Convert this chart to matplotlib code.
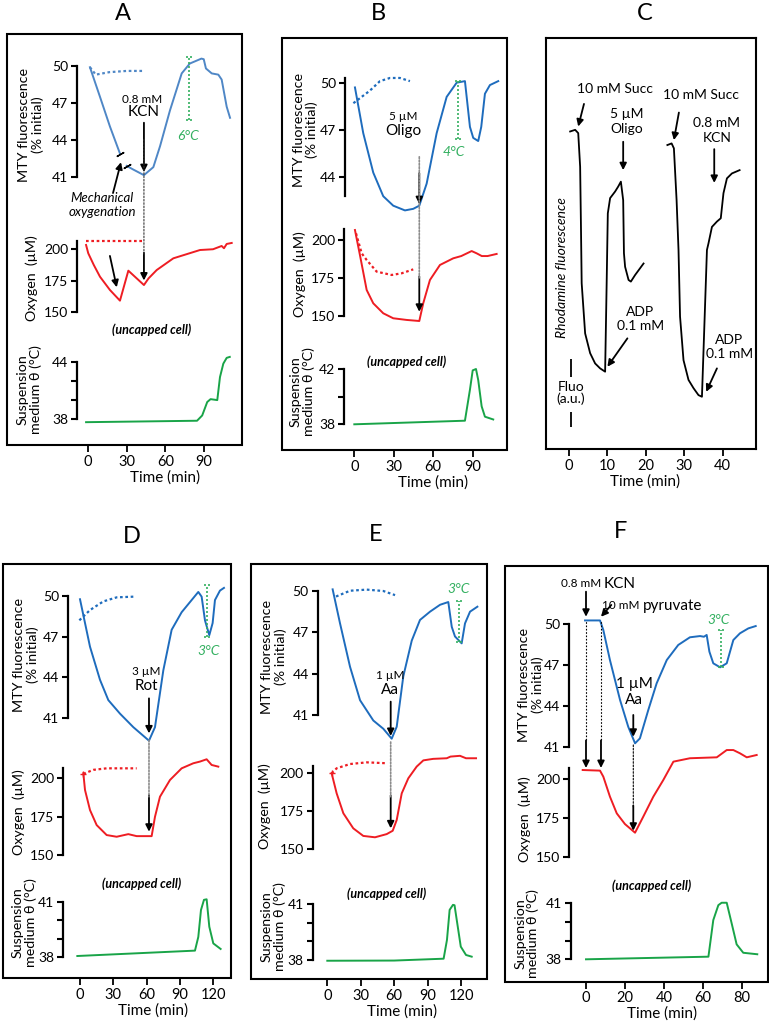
import numpy as np
import matplotlib.pyplot as plt
from matplotlib.patches import Rectangle, ConnectionPatch

plt.rcParams['font.family'] = ['Lato', 'DejaVu Sans']

W, H = 769, 1025          # output size in pixels

BLUE_A = '#4f87c6'
BLUE = '#1e6cbd'
RED = '#ee1d23'
GREEN = '#19a448'
GREEN_DOT = '#33b060'
DOTTED = (0, (1.2, 1.2))

# ---------------- A : 0.8 mM KCN ----------------
a_time_ticks = [0, 30, 60, 90]
a_mty_t = [1.5, 9.3, 17, 24.8]
a_mty_v = [49.9, 47.5, 45.1, 42.9]
a_mty2_t = [30, 35.2, 43.4, 50.7, 55.9, 63.6, 72.7, 79, 88, 89.8, 91.5, 96, 101.1, 103.7, 107.6, 110.2]
a_mty2_v = [41.9, 41.6, 41.15, 41.8, 43.5, 46.4, 49.4, 50.2, 50.6, 50.55, 49.8, 49.4, 49.3, 48.9, 46.7, 45.8]
a_mty_dot_t = [1.5, 6, 16.5, 30, 42.4]
a_mty_dot_v = [49.9, 49.3, 49.5, 49.6, 49.6]
a_o2_t = [-1.5, 0.2, 4.5, 9.3, 17, 24.8, 31.3, 43.4, 47, 53.3, 66.2, 86.9, 97, 103.7, 105.5, 107.6, 111.5]
a_o2_v = [203.2, 196.6, 187.3, 178, 167.5, 159, 182.8, 171.4, 176.7, 183.3, 192.6, 199.2, 199.8, 202.4, 200.6, 204, 204.8]
a_o2_dot_t = [-1.5, 42.4]
a_o2_dot_v = [206.6, 206.6]
a_temp_t = [-1.5, 84.6, 88.6, 92.5, 95.1, 100.3, 102.4, 105, 107.6, 110]
a_temp_v = [37.7, 37.85, 38.4, 39.8, 40.1, 40.0, 42.4, 43.8, 44.4, 44.5]
a_kcn_t = 43.4

# ---------------- B : 5 uM oligomycin ----------------
b_time_ticks = [0, 30, 60, 90]
b_mty_t = [0.5, 6.8, 14.4, 22, 29.6, 38.5, 44.8, 49.4, 55, 62.6, 70.2, 77.8, 84.1, 87.9, 90.4, 94.2, 96.5, 99.3, 103.1, 109.4]
b_mty_v = [49.7, 46.8, 44.3, 42.8, 42.2, 41.9, 42.0, 42.2, 43.6, 46.8, 49.1, 50.0, 50.1, 47.2, 46.5, 46.3, 47.2, 49.3, 49.85, 50.1]
b_mty_dot_t = [-0.7, 4, 11.9, 19.5, 27.1, 34.7, 42.3]
b_mty_dot_v = [48.7, 49.0, 49.5, 50.1, 50.3, 50.3, 50.1]
b_o2_t = [0.5, 4.3, 9.4, 14.4, 22, 29.6, 39.8, 49.4, 52.4, 57.5, 65.1, 75.2, 81.3, 89.2, 93, 96.9, 101.3, 108.2]
b_o2_v = [206.6, 190, 167, 158.2, 151.6, 148.3, 147.2, 146.5, 158.2, 173.6, 183.5, 187.9, 189.4, 192.7, 191.2, 189.4, 189.4, 190.8]
b_o2_dot_t = [1.3, 5.6, 9.4, 17, 28.4, 36, 44.8]
b_o2_dot_v = [204.4, 191.2, 186.8, 179.1, 176.9, 178.0, 180.6]
b_temp_t = [0, 84.1, 87.9, 90, 92.5, 94.2, 96.8, 99.3, 105.6]
b_temp_v = [38.0, 38.26, 40.5, 41.9, 42.0, 41.2, 39.3, 38.55, 38.35]
b_oligo_t = 49.4

# ---------------- C : rhodamine traces ----------------
c_time_ticks = [0, 10, 20, 30, 40]
c1_t = [0.3, 1.6, 2.4, 2.9, 3.1, 3.3, 4.2, 5.5, 6.8, 8.1, 9.4, 9.8, 10.1, 10.7, 12.0, 12.8, 13.5, 14.1, 14.3, 14.6, 15.5, 16.1, 17.2, 19.4]
c1_v = [77.2, 77.6, 76.8, 68.6, 55, 40.3, 28.1, 23.3, 20.8, 19.6, 18.8, 40.3, 57.3, 61.0, 62.6, 63.8, 65.0, 60.5, 47.6, 44.3, 41.1, 40.7, 42.3, 45.1]
c2_t = [25.6, 26.7, 27.3, 28.0, 28.5, 28.9, 29.8, 31.1, 32.4, 33.7, 34.6, 35.9, 36.3, 37.2, 38.5, 39.5, 40.2, 41.1, 42.4, 44.4]
c2_v = [73.9, 74.3, 73.1, 60.5, 48.4, 32.2, 21.6, 16.8, 14.8, 13.1, 12.7, 48.4, 50.0, 54.0, 55.3, 56.1, 62.2, 65.8, 67.0, 67.8]

# ---------------- D : 3 uM rotenone ----------------
d_time_ticks = [0, 30, 60, 90, 120]
d_mty_t = [0, 9, 18, 25.5, 36, 48, 62.1, 67.5, 75, 82.5, 91.5, 100.5, 106.5, 109.5, 112.5, 116.4, 119.4, 121.5, 126, 129.6]
d_mty_v = [49.76, 46.25, 43.8, 42.3, 41.3, 40.3, 39.3, 40.3, 44.5, 47.5, 48.8, 49.7, 50.3, 49.95, 48.2, 47.1, 48.0, 49.7, 50.4, 50.6]
d_mty_dot_t = [-0.6, 9, 21, 33, 48]
d_mty_dot_v = [48.2, 48.96, 49.6, 49.9, 49.95]
d_o2_t = [3, 4.5, 9, 15, 24, 33, 43.5, 51, 64.5, 67.5, 72, 81, 91.5, 102, 108, 114, 118.5, 124.5]
d_o2_v = [203.3, 192.4, 179.3, 169.5, 163, 161.9, 163.6, 162.3, 162.3, 174.9, 188, 198.9, 206.5, 209.8, 210.9, 212.4, 208.7, 207.6]
d_o2_dot_t = [3, 12, 24, 51]
d_o2_dot_v = [202.9, 205.5, 206.5, 206.5]
d_temp_t = [-2.4, 103.5, 106.5, 108.9, 111.6, 114, 116.4, 120, 126.6]
d_temp_v = [38.07, 38.36, 39.1, 40.55, 41.1, 41.13, 39.65, 38.75, 38.45]
d_rot_t = 62.1

# ---------------- E : 1 uM antimycin ----------------
e_time_ticks = [0, 30, 60, 90, 120]
e_mty_t = [4.8, 11.4, 20.4, 29.4, 41.3, 50.3, 57.8, 62.3, 68.2, 75.8, 83.2, 92.2, 101.2, 108.6, 111.7, 114.6, 120.6, 123.6, 128.1, 134.7]
e_mty_v = [50.12, 47.66, 44.5, 42.07, 40.6, 40.0, 39.28, 40.15, 43.8, 46.4, 47.9, 48.5, 49.0, 49.2, 47.4, 46.7, 46.2, 47.65, 48.5, 48.86]
e_mty_dot_t = [7.8, 20.4, 35.4, 50.3, 60.8]
e_mty_dot_v = [49.6, 50.02, 50.1, 50.0, 49.7]
e_o2_t = [3.9, 8.4, 14.4, 23.3, 32.3, 42.8, 53.3, 58.7, 62.3, 66.8, 72.7, 80.2, 86.2, 95, 107.2, 110.6, 119.1, 124.5, 133.5]
e_o2_v = [200, 186.8, 173.7, 163.8, 158.8, 157.9, 160, 162.2, 169.3, 186.8, 196.7, 204.4, 208.5, 209.5, 209.9, 211, 211.5, 209.9, 209.9]
e_o2_dot_t = [3.9, 8.4, 20.4, 35.4, 53.9]
e_o2_dot_v = [200, 203.3, 206.1, 207.2, 206.6]
e_temp_t = [0, 60, 104.4, 107.4, 109.8, 112.8, 114.2, 116.2, 119.8, 124.5, 129.6]
e_temp_v = [37.96, 37.97, 38.07, 39.08, 40.7, 40.97, 40.95, 40.15, 38.72, 38.27, 38.18]
e_aa_t = 56.9

# ---------------- F : KCN + pyruvate + antimycin ----------------
f_time_ticks = [0, 20, 40, 60, 80]
f_mty_t = [-0.5, 7.2, 8.9, 12.3, 17.5, 21.7, 25.2, 27.7, 32, 36.3, 41.5, 47.4, 53.4, 58.6, 60.6, 62, 63.4, 65.4, 68.9, 72.3, 75.7, 79.1, 83.4, 87.2]
f_mty_v = [50.26, 50.26, 49.56, 47.37, 44.45, 42.5, 41.29, 41.65, 43.72, 45.67, 47.37, 48.47, 49.03, 49.12, 49.07, 49.2, 47.98, 47.13, 46.84, 47.13, 48.83, 49.32, 49.68, 49.85]
f_o2_t = [-1.7, 7.2, 8.9, 12.3, 15.8, 20, 25.2, 29.4, 34.6, 39.7, 44.9, 53.4, 67.2, 72.3, 75.7, 79.1, 82.6, 87.7]
f_o2_v = [206.0, 205.6, 201.7, 188.8, 178.0, 171.1, 165.5, 175.8, 188.8, 199.5, 211.4, 213.6, 214.2, 218.9, 218.9, 216.8, 214.2, 215.7]
f_temp_t = [0, 62.9, 65.4, 68, 69.7, 72.3, 74.9, 77.4, 80.8, 88]
f_temp_v = [38.0, 38.14, 40.1, 40.9, 41.03, 41.03, 39.9, 38.8, 38.35, 38.27]
f_kcn_t = 0
f_pyr_t = 7.7
f_aa_t = 24.3


fig = plt.figure(figsize=(W / 100, H / 100), dpi=100)


def cal_axes(xcal, left, right, ycal, ylim):
    # place an axes so that two known (value, pixel) pairs land where they are in the reference
    (t1, p1), (t2, p2) = xcal
    sx = (p2 - p1) / (t2 - t1)
    (v1, q1), (v2, q2) = ycal
    sy = (q2 - q1) / (v2 - v1)
    top = q1 + (ylim[1] - v1) * sy
    bottom = q1 + (ylim[0] - v1) * sy
    ax = fig.add_axes([left / W, 1 - bottom / H, (right - left) / W, (bottom - top) / H])
    ax.set_xlim(t1 + (left - p1) / sx, t1 + (right - p1) / sx)
    ax.set_ylim(ylim)
    ax.patch.set_visible(False)
    return ax


def y_style(ax, ticks, labels, bounds):
    for side in ('top', 'right', 'bottom'):
        ax.spines[side].set_visible(False)
    ax.spines['left'].set_bounds(*bounds)
    ax.spines['left'].set_linewidth(1.6)
    ax.set_xticks([])
    ax.set_yticks(ticks, labels)
    ax.tick_params(axis='y', direction='out', length=4.5, width=1.5, labelsize=10, pad=2)


def time_axis(xcal, left, right, frame_bottom, ticks, label_t):
    ax = cal_axes(xcal, left, right, ((0, frame_bottom), (1, frame_bottom - 1)), (0, 0.5))
    for s in ax.spines.values():
        s.set_visible(False)
    ax.set_yticks([])
    ax.set_xticks(ticks)
    ax.tick_params(axis='x', direction='out', length=5, width=1.3, labelsize=10.5, pad=2)
    ax.set_xlabel('Time (min)', fontsize=11, labelpad=1)
    lo, hi = ax.get_xlim()
    ax.xaxis.label.set_x((label_t - lo) / (hi - lo))
    return ax


def frame(x0, y0, x1, y1):
    fig.add_artist(Rectangle((x0 / W, 1 - y1 / H), (x1 - x0) / W, (y1 - y0) / H,
                             transform=fig.transFigure, fill=False, lw=1.5, ec='black'))


def ptext(px, py, s, **kw):
    kw.setdefault('ha', 'center')
    kw.setdefault('va', 'center')
    fig.text(px / W, 1 - py / H, s, **kw)


def side_labels(xm, ym, xo, yo, xt, yt):
    ptext(xm, ym, 'MTY fluorescence\n(% initial)', rotation=90, fontsize=10.3, linespacing=1.05)
    ptext(xo, yo, 'Oxygen  (µM)', rotation=90, fontsize=10.3)
    ptext(xt, yt, 'Suspension\nmedium θ (°C)', rotation=90, fontsize=10.3, linespacing=1.05)


def uncapped(px, py):
    ptext(px, py, '(uncapped cell)', fontsize=9, fontweight='bold', style='italic')


def arrow(ax, start, end, lw=1.3):
    ax.annotate('', xy=end, xytext=start, annotation_clip=False,
                arrowprops=dict(arrowstyle='-|>', color='black', lw=lw, mutation_scale=10,
                                shrinkA=0, shrinkB=0))


def link(axA, pA, axB, pB, color='0.55', ls=(0, (1, 1)), lw=1.2, head=False):
    con = ConnectionPatch(xyA=pA, coordsA='data', axesA=axA, xyB=pB, coordsB='data', axesB=axB,
                          color=color, lw=lw, linestyle=ls, arrowstyle='-|>' if head else '-',
                          mutation_scale=10, shrinkA=0, shrinkB=0)
    fig.add_artist(con)


def temp_mark(ax, t, lo, hi, half, text, text_xy):
    ax.vlines(t, lo, hi, colors=GREEN_DOT, linestyles=DOTTED, lw=1.2)
    ax.hlines([lo, hi], t - half, t + half, colors=GREEN_DOT, linestyles=DOTTED, lw=1.2)
    ax.text(*text_xy, text, color=GREEN_DOT, style='italic', fontsize=10, ha='center', va='center')


mty_ticks = [41, 44, 47, 50]
o2_ticks = [150, 175, 200]

# ================= A =================
frame(7, 34, 242, 445)
xa = ((0, 88), (90, 204))
ax1 = cal_axes(xa, 77, 236, ((41, 177), (50, 66)), (38, 51.5))
ax2 = cal_axes(xa, 77, 236, ((150, 312), (200, 249)), (140, 212))
ax3 = cal_axes(xa, 77, 236, ((38, 419.3), (44, 361.7)), (37, 46))
y_style(ax1, mty_ticks, mty_ticks, (41, 50))
y_style(ax2, o2_ticks, o2_ticks, (150, 206))
y_style(ax3, [38, 40, 42, 44], ['38', '', '', '44'], (38, 44))
time_axis(xa, 77, 236, 445, a_time_ticks, 60)

ax1.plot(a_mty_t, a_mty_v, color=BLUE_A, lw=1.4)
ax1.plot(a_mty2_t, a_mty2_v, color=BLUE_A, lw=1.4)
ax1.plot(a_mty_dot_t, a_mty_dot_v, color=BLUE_A, lw=1.6, ls=DOTTED)
ax1.plot([a_mty_t[-1]], [a_mty_v[-1]], marker=(2, 2, -60), ms=6, mew=1, color='black')
ax1.plot([a_mty2_t[0]], [a_mty2_v[0]], marker=(2, 2, -60), ms=6, mew=1, color='black')
temp_mark(ax1, 78.6, 45.6, 50.7, 2.5, '6°C', (77.6, 44.3))
ax1.text(41.9, 47.3, '0.8 mM', fontsize=8.5, ha='center', va='center')
ax1.text(a_kcn_t, 46.3, 'KCN', fontsize=11, ha='center', va='center')
arrow(ax1, (a_kcn_t, 45.4), (a_kcn_t, 41.4))
ax1.text(10.9, 39.3, 'Mechanical', style='italic', fontsize=9.5, ha='center', va='center')
ax1.text(10.9, 38.2, 'oxygenation', style='italic', fontsize=9.5, ha='center', va='center')
arrow(ax1, (19.4, 39.7), (25.6, 42.2))
link(ax1, (a_kcn_t, 44.05), ax2, (a_kcn_t, 196), color='0.2', ls=(0, (1.5, 1.5)), lw=0.8)
arrow(ax2, (a_kcn_t, 197), (a_kcn_t, 175))
arrow(ax2, (17, 194.5), (22.3, 169.6))
ax2.plot(a_o2_t, a_o2_v, color=RED, lw=1.4)
ax2.plot(a_o2_dot_t, a_o2_dot_v, color=RED, lw=1.6, ls=DOTTED)
ax3.plot(a_temp_t, a_temp_v, color=GREEN, lw=1.4)
side_labels(31, 125, 32, 278, 29.5, 390)
uncapped(152, 330)
ptext(123, 14, 'A', fontsize=17)

# ================= B =================
frame(281.7, 37.7, 506.7, 450)
xb = ((0, 354.3), (90, 472.7))
bx1 = cal_axes(xb, 345, 502, ((44, 177.3), (50, 82.7)), (41, 51.5))
bx2 = cal_axes(xb, 344, 502, ((150, 315.7), (200, 240)), (140, 212))
bx3 = cal_axes(xb, 344, 502, ((38, 424.3), (42, 369)), (37, 43.5))
y_style(bx1, [44, 47, 50], [44, 47, 50], (42.8, 50.3))
y_style(bx2, o2_ticks, o2_ticks, (150, 207))
y_style(bx3, [38, 40, 42], ['38', '', '42'], (38, 42))
time_axis(xb, 344, 502, 450, b_time_ticks, 59.6)

bx1.plot(b_mty_t, b_mty_v, color=BLUE, lw=1.4)
bx1.plot(b_mty_dot_t, b_mty_dot_v, color=BLUE, lw=1.6, ls=DOTTED)
temp_mark(bx1, 79, 46.4, 50.1, 2.5, '4°C', (75.8, 45.6))
bx1.text(37.2, 47.84, '5 µM', fontsize=8.5, ha='center', va='center')
bx1.text(37.2, 46.94, 'Oligo', fontsize=11, ha='center', va='center')
arrow(bx1, (b_oligo_t, 44.27), (b_oligo_t, 42.3))
link(bx1, (b_oligo_t, 45.3), bx2, (b_oligo_t, 175))
arrow(bx2, (b_oligo_t, 176), (b_oligo_t, 152.6))
bx2.plot(b_o2_t, b_o2_v, color=RED, lw=1.4)
bx2.plot(b_o2_dot_t, b_o2_dot_v, color=RED, lw=1.6, ls=DOTTED)
bx3.plot(b_temp_t, b_temp_v, color=GREEN, lw=1.4)
side_labels(305.7, 130, 300, 274, 302, 392)
uncapped(406.7, 361.7)
ptext(378, 13, 'B', fontsize=17)

# ================= C =================
xc = ((0, 569), (40, 722.7))
cx = cal_axes(xc, 545.7, 756, ((0, 449), (100, 37.7)), (0, 100))
for s in cx.spines.values():
    s.set_linewidth(1.5)
cx.set_yticks([])
cx.set_xticks(c_time_ticks)
cx.tick_params(axis='x', direction='out', length=5, width=1.3, labelsize=10.5, pad=2)
cx.set_xlabel('Time (min)', fontsize=11, labelpad=1)
lo, hi = cx.get_xlim()
cx.xaxis.label.set_x((19.8 - lo) / (hi - lo))
cx.plot(c1_t, c1_v, color='black', lw=1.3)
cx.plot(c2_t, c2_v, color='black', lw=1.3)
cx.text(12.0, 87.5, '10 mM Succ', fontsize=10, ha='center', va='center')
arrow(cx, (3.9, 83.9), (2.4, 78.4))
cx.text(15.0, 81.4, '5 µM', fontsize=10, ha='center', va='center')
cx.text(15.0, 77.7, 'Oligo', fontsize=10, ha='center', va='center')
arrow(cx, (14.1, 74.7), (14.1, 67.8))
cx.text(34.3, 86.1, '10 mM Succ', fontsize=10, ha='center', va='center')
arrow(cx, (28.6, 81.8), (27.3, 75.1))
cx.text(38.5, 79.2, '0.8 mM', fontsize=10, ha='center', va='center')
cx.text(38.5, 75.7, 'KCN', fontsize=10, ha='center', va='center')
arrow(cx, (37.8, 72.9), (37.8, 64.7))
cx.text(18.5, 33.2, 'ADP', fontsize=10, ha='center', va='center')
cx.text(18.5, 29.9, '0.1 mM', fontsize=10, ha='center', va='center')
arrow(cx, (15.2, 26.9), (10.0, 20.0))
cx.text(41.7, 26.5, 'ADP', fontsize=10, ha='center', va='center')
cx.text(41.7, 23.1, '0.1 mM', fontsize=10, ha='center', va='center')
arrow(cx, (38.5, 19.6), (35.7, 13.9))
cx.text(-1.9, 44.2, 'Rhodamine fluorescence', rotation=90, style='italic', fontsize=10,
        ha='center', va='center')
cx.vlines(0.5, 17.4, 21.9, color='black', lw=1.3)
cx.vlines(0.5, 5.4, 9.1, color='black', lw=1.3)
cx.text(0.5, 15.0, 'Fluo', fontsize=10, ha='center', va='center')
cx.text(0.5, 12.3, '(a.u.)', fontsize=10, ha='center', va='center')
ptext(645, 13, 'C', fontsize=17)

# ================= D =================
frame(3.3, 564.3, 231, 978.3)
xd = ((0, 80), (120, 213.3))
dx1 = cal_axes(xd, 68.3, 226, ((41, 717.7), (50, 596)), (38.5, 51.5))
dx2 = cal_axes(xd, 63.3, 226, ((150, 855), (200, 778.3)), (145, 215))
dx3 = cal_axes(xd, 63.3, 226, ((38, 957.3), (41, 901.7)), (37.5, 41.8))
y_style(dx1, mty_ticks, mty_ticks, (41, 50))
y_style(dx2, o2_ticks, o2_ticks, (150, 207))
y_style(dx3, [38, 39, 40, 41], ['38', '', '', '41'], (38, 41))
time_axis(xd, 63.3, 226, 978.3, d_time_ticks, 66)

dx1.plot(d_mty_t, d_mty_v, color=BLUE, lw=1.4)
dx1.plot(d_mty_dot_t, d_mty_dot_v, color=BLUE, lw=1.6, ls=DOTTED)
temp_mark(dx1, 114.6, 47.0, 50.8, 3, '3°C', (115.5, 45.93))
dx1.text(60, 44.4, '3 µM', fontsize=8.5, ha='center', va='center')
dx1.text(60, 43.34, 'Rot', fontsize=11, ha='center', va='center')
arrow(dx1, (d_rot_t, 42.43), (d_rot_t, 39.84))
link(dx1, (d_rot_t, 39.35), dx2, (d_rot_t, 188))
arrow(dx2, (d_rot_t, 189), (d_rot_t, 165.2))
dx2.plot(d_o2_t, d_o2_v, color=RED, lw=1.4)
dx2.plot(d_o2_dot_t, d_o2_dot_v, color=RED, lw=1.6, ls=DOTTED)
dx2.plot(d_o2_dot_t[:1], d_o2_dot_v[:1], marker='+', ms=5, mew=1, color=RED)
dx3.plot(d_temp_t, d_temp_v, color=GREEN, lw=1.4)
side_labels(26, 655, 19, 812, 24, 923)
uncapped(141.7, 883.3)
ptext(131.7, 536.7, 'D', fontsize=17)

# ================= E =================
frame(251, 564.3, 487.3, 979)
xe = ((0, 327.3), (120, 461))
ex1 = cal_axes(xe, 317.7, 482, ((41, 715), (50, 591)), (38.5, 51.5))
ex2 = cal_axes(xe, 312.7, 482, ((150, 849.3), (200, 773.3)), (145, 215))
ex3 = cal_axes(xe, 312.7, 482, ((38, 960), (41, 904.3)), (37.5, 41.8))
y_style(ex1, mty_ticks, mty_ticks, (41, 50))
y_style(ex2, o2_ticks, o2_ticks, (150, 205))
y_style(ex3, [38, 39, 40, 41], ['38', '', '', '41'], (38, 41))
time_axis(xe, 312.7, 482, 979, e_time_ticks, 67.3)

ex1.plot(e_mty_t, e_mty_v, color=BLUE, lw=1.4)
ex1.plot(e_mty_dot_t, e_mty_dot_v, color=BLUE, lw=1.6, ls=DOTTED)
temp_mark(ex1, 118.2, 46.3, 49.3, 2.5, '3°C', (117.6, 50.12))
ex1.text(56.3, 43.9, '1 µM', fontsize=8.5, ha='center', va='center')
ex1.text(56.3, 42.8, 'Aa', fontsize=11, ha='center', va='center')
arrow(ex1, (e_aa_t, 41.97), (e_aa_t, 39.48))
link(ex1, (e_aa_t, 39.04), ex2, (e_aa_t, 184.6))
arrow(ex2, (e_aa_t, 185.5), (e_aa_t, 163.8))
ex2.plot(e_o2_t, e_o2_v, color=RED, lw=1.4)
ex2.plot(e_o2_dot_t, e_o2_dot_v, color=RED, lw=1.6, ls=DOTTED)
ex2.plot(e_o2_dot_t[:1], e_o2_dot_v[:1], marker='+', ms=5, mew=1, color=RED)
ex3.plot(e_temp_t, e_temp_v, color=GREEN, lw=1.4)
side_labels(274, 657, 265, 806, 273, 927)
uncapped(386.7, 894)
ptext(376, 534.3, 'E', fontsize=17)

# ================= F =================
frame(505, 566, 768, 981.7)
xf = ((0, 586), (80, 741.7))
fx1 = cal_axes(xf, 569, 762, ((41, 747.3), (50, 624)), (40, 53.5))
fx2 = cal_axes(xf, 569, 762, ((150, 856.7), (200, 779.3)), (145, 222))
fx3 = cal_axes(xf, 570.7, 762, ((38, 959.3), (41, 903.3)), (37.5, 41.8))
y_style(fx1, mty_ticks, mty_ticks, (41, 50))
y_style(fx2, o2_ticks, o2_ticks, (150, 207))
y_style(fx3, [38, 39, 40, 41], ['38', '', '', '41'], (38, 41))
time_axis(xf, 569, 762, 981.7, f_time_ticks, 39.2)

fx1.plot(f_mty_t, f_mty_v, color=BLUE, lw=1.4)
temp_mark(fx1, 69.2, 46.84, 49.56, 1.6, '3°C', (68, 50.3))
fx1.text(8.0, 52.92, '0.8 mM', fontsize=8.5, ha='right', va='center')
fx1.text(9.0, 52.92, 'KCN', fontsize=11, ha='left', va='center')
arrow(fx1, (f_kcn_t, 52.36), (f_kcn_t, 50.53))
fx1.text(27.6, 51.34, '10 mM', fontsize=8.5, ha='right', va='center')
fx1.text(29.0, 51.34, 'pyruvate', fontsize=11, ha='left', va='center')
arrow(fx1, (13.0, 51.39), (f_pyr_t, 50.53))
for t in (f_kcn_t, f_pyr_t):
    fx1.vlines(t, 41.5, 50.3, colors='black', linestyles=(0, (1.5, 1.5)), lw=0.8)
    link(fx1, (t, 41.5), fx2, (t, 207.3), color='black', ls='-', lw=1.3, head=True)
fx1.text(24.8, 45.62, '1 µM', fontsize=11, ha='center', va='center')
fx1.text(24.8, 44.45, 'Aa', fontsize=11, ha='center', va='center')
arrow(fx1, (f_aa_t, 43.36), (f_aa_t, 41.77))
link(fx1, (f_aa_t, 41.17), fx2, (f_aa_t, 182.3), color='black', ls=(0, (1.5, 1.5)), lw=0.8)
arrow(fx2, (f_aa_t, 183), (f_aa_t, 166.8))
fx2.plot(f_o2_t, f_o2_v, color=RED, lw=1.4)
fx3.plot(f_temp_t, f_temp_v, color=GREEN, lw=1.4)
side_labels(531, 685, 525, 819, 526.7, 934)
uncapped(651.7, 885.7)
ptext(620.7, 531, 'F', fontsize=17)

fig.savefig('out.png', dpi=100)
